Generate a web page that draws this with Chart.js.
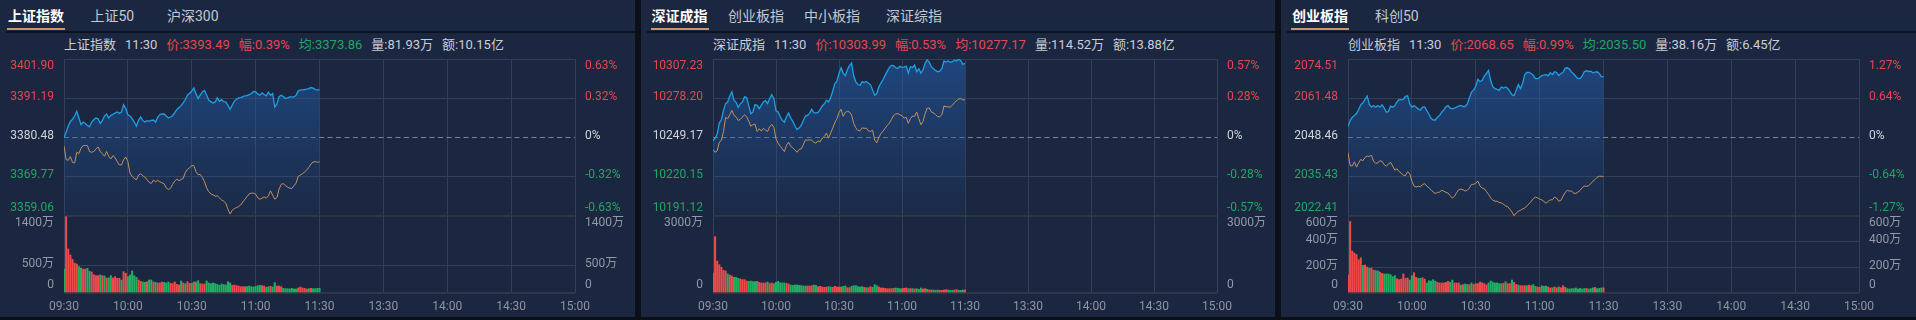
<!DOCTYPE html>
<html><head><meta charset="utf-8">
<script src="https://cdn.jsdelivr.net/npm/chart.js@4.4.0/dist/chart.umd.min.js"></script>
<style>
body{margin:0;background:#0a0f18;width:1916px;height:320px;overflow:hidden;font-family:Roboto,"Noto Sans CJK SC",sans-serif}
.panel{position:absolute;top:0;height:317px;background:#1b2740}
.tab{position:absolute;top:6px;font-size:14px;line-height:20px;color:#c3c8d1;white-space:nowrap}
.tab.on{color:#fff;font-weight:bold}
.uline{position:absolute;top:28px;height:2px;background:#c99562}
.sep{position:absolute;left:6px;right:0;top:31px;height:2px;background:#0d131e}
.info{position:absolute;top:37px;font-size:13px;line-height:16px;color:#c9cdd5;white-space:nowrap}
.info span{margin-right:9px}
canvas{position:absolute;left:0}
</style>
</head>
<body>
<script>
// time axis: one point per minute, 09:30-11:30 then 13:01-15:00 (241 slots)
const xTickLabels = ['09:30','10:00','10:30','11:00','11:30','13:30','14:00','14:30','15:00'];

// ---- 上证指数 ----
const shPriceTicks = [3359.06, 3369.77, 3380.48, 3391.19, 3401.90];
const shPctLabels = ['-0.63%', '-0.32%', '0%', '0.32%', '0.63%'];
const shVolTicks = [0, 500, 1400];
const shVolLabels = ['0', '500万', '1400万'];
const shPrice = [
  3380.48,3381.94,3383.59,3384.87,3385.42,3386.34,3387.62,3385.79,3383.96,3384.69,
  3384.32,3383.77,3383.41,3384.69,3385.33,3385.79,3385.61,3384.32,3385.06,3386.34,
  3386.89,3385.79,3386.52,3386.80,3387.16,3387.44,3387.07,3387.44,3389.45,3388.35,
  3386.70,3386.34,3385.61,3384.69,3383.59,3385.15,3386.06,3385.15,3384.69,3385.06,
  3384.87,3385.15,3385.24,3384.69,3385.97,3386.70,3386.89,3386.89,3386.34,3385.79,
  3386.06,3386.43,3387.25,3388.17,3388.63,3389.17,3389.91,3390.91,3392.01,3392.56,
  3393.11,3394.02,3392.38,3391.10,3392.10,3392.92,3393.29,3392.01,3390.64,3390.27,
  3389.91,3390.18,3391.28,3390.36,3390.82,3390.27,3390.18,3389.26,3388.17,3389.26,
  3390.36,3390.91,3391.28,3391.37,3391.64,3391.83,3391.92,3392.19,3392.47,3393.02,
  3392.92,3392.38,3392.01,3392.65,3392.19,3391.83,3392.83,3392.01,3392.47,3388.81,
  3389.63,3391.64,3392.01,3391.64,3391.10,3391.28,3391.55,3391.55,3391.55,3392.01,
  3393.20,3393.38,3393.47,3393.57,3393.66,3393.84,3394.11,3393.93,3393.57,3393.47,
  3393.49];
const shAvg = [
  3378.10,3374.44,3374.26,3375.26,3373.71,3373.53,3376.45,3376.09,3377.55,3378.28,
  3378.28,3378.28,3376.64,3376.45,3376.64,3377.37,3377.92,3376.64,3376.09,3375.36,
  3376.64,3375.36,3374.62,3375.54,3374.99,3373.89,3372.98,3372.98,3374.44,3375.17,
  3373.89,3370.78,3369.87,3369.32,3368.95,3370.23,3370.60,3370.05,3369.68,3368.95,
  3368.22,3367.94,3368.86,3368.40,3368.77,3368.40,3368.13,3367.85,3366.75,3366.30,
  3366.57,3367.67,3368.58,3369.13,3368.68,3369.04,3369.32,3370.96,3371.79,3372.25,
  3372.79,3372.79,3371.15,3370.32,3370.41,3369.59,3368.40,3366.75,3365.66,3365.11,
  3364.83,3364.47,3364.56,3364.01,3363.46,3363.09,3362.55,3360.90,3359.62,3360.62,
  3361.08,3361.36,3361.63,3362.09,3362.91,3363.64,3364.38,3365.11,3365.29,3365.29,
  3365.02,3364.01,3363.64,3363.92,3364.28,3363.92,3364.56,3365.93,3364.74,3363.64,
  3364.10,3366.39,3367.67,3367.94,3367.30,3366.94,3366.66,3366.57,3367.30,3368.04,
  3369.87,3370.23,3370.60,3371.05,3371.60,3372.34,3373.25,3373.80,3373.89,3373.71,
  3373.86];
const shVol = [
  436,1388,800,691,612,545,527,479,455,436,
  436,448,394,382,333,315,315,327,315,309,
  273,273,315,273,297,267,267,236,388,358,
  297,327,400,315,285,236,212,200,194,206,
  236,236,200,194,182,182,200,194,182,200,
  176,170,200,158,145,218,182,170,206,176,
  176,200,200,224,170,164,164,218,182,170,
  182,170,158,139,164,152,145,206,182,139,
  145,133,127,115,115,115,115,127,115,109,
  121,133,139,133,127,103,115,121,109,188,
  127,127,115,85,79,79,73,85,73,73,
  91,109,91,85,73,79,85,79,79,85,
  85];
const shDir = ('grrrrrrggr'+'rggrrrrgrg'+'rggrrrrgrr'+'gggggrrggr'+'ggrgrrrggg'+'rrrrrgrgrr'+
  'grggrrrggg'+'gggggggggr'+'rrrrrrgggg'+'gggrrggrgg'+'rrrggggggg'+'rrrrrgrggg'+'g').split('');

// ---- 深证成指 ----
const szPriceTicks = [10191.12, 10220.15, 10249.17, 10278.20, 10307.23];
const szPctLabels = ['-0.57%', '-0.28%', '0%', '0.28%', '0.57%'];
const szVolTicks = [0, 3000];
const szVolLabels = ['0', '3000万'];
const szPrice = [
  10246.69,10248.67,10251.65,10259.84,10262.32,10269.27,10274.23,10275.47,10279.93,10282.91,
  10276.71,10275.22,10271.50,10273.98,10275.47,10279.19,10278.69,10272.99,10266.79,10268.03,
  10273.48,10272.99,10270.51,10272.99,10275.47,10276.46,10274.23,10277.95,10280.93,10277.95,
  10269.02,10268.03,10264.55,10261.82,10260.58,10264.55,10267.28,10263.56,10261.08,10257.85,
  10255.12,10256.12,10258.10,10261.58,10265.05,10265.54,10267.03,10270.01,10267.53,10267.28,
  10267.78,10269.76,10272.49,10273.98,10276.71,10275.47,10278.45,10283.41,10288.87,10290.85,
  10296.56,10300.78,10296.81,10294.82,10299.29,10302.26,10304.25,10294.82,10290.35,10288.37,
  10287.63,10290.35,10289.86,10290.60,10289.36,10288.12,10284.40,10280.43,10281.67,10286.63,
  10289.36,10292.09,10295.32,10298.30,10301.02,10302.51,10302.26,10300.78,10300.28,10301.77,
  10301.02,10301.27,10302.01,10296.81,10301.52,10301.02,10302.76,10297.80,10300.03,10296.81,
  10299.29,10304.00,10306.48,10304.75,10301.52,10300.03,10298.79,10297.80,10298.30,10300.28,
  10305.74,10304.99,10305.74,10304.75,10305.24,10306.48,10305.74,10307.23,10305.99,10303.26,
  10303.99];
const szAvg = [
  10240.24,10238.25,10239.25,10245.70,10246.94,10253.64,10264.06,10263.06,10266.04,10269.27,
  10265.54,10264.30,10261.82,10262.57,10264.30,10266.04,10264.55,10261.33,10257.61,10258.60,
  10259.09,10253.64,10255.62,10253.88,10255.87,10254.63,10253.64,10257.11,10258.85,10256.61,
  10248.18,10244.95,10242.72,10240.73,10238.75,10243.46,10245.70,10242.72,10241.48,10239.99,
  10238.25,10240.24,10240.73,10243.71,10247.43,10247.18,10247.43,10247.18,10245.70,10244.95,
  10246.69,10245.94,10248.67,10249.91,10252.40,10248.67,10252.40,10256.12,10260.09,10263.06,
  10267.53,10270.01,10264.80,10267.78,10268.52,10268.03,10265.79,10259.59,10256.36,10254.38,
  10254.13,10256.36,10255.87,10256.12,10254.13,10253.64,10254.63,10247.18,10245.20,10249.42,
  10252.15,10253.88,10256.12,10258.10,10259.84,10262.57,10265.54,10266.54,10266.79,10266.04,
  10265.30,10263.56,10264.06,10259.59,10263.06,10265.05,10264.80,10268.03,10263.06,10258.60,
  10261.08,10266.79,10271.00,10271.00,10268.03,10267.28,10266.04,10264.55,10264.55,10266.04,
  10272.49,10271.99,10271.75,10271.75,10272.99,10274.97,10276.46,10277.70,10277.95,10276.96,
  10277.17];
const szVol = [
  779,2195,1247,1104,1000,883,857,740,701,662,
  611,611,572,546,520,520,468,455,468,442,
  442,455,416,390,390,390,429,364,390,364,
  416,455,403,390,390,377,351,312,299,312,
  312,299,286,273,273,273,273,286,312,299,
  247,260,234,221,234,247,234,221,260,234,
  234,234,260,273,208,208,260,286,286,247,
  234,247,221,208,208,247,221,325,286,234,
  195,195,182,169,169,169,182,195,182,169,
  169,182,195,169,169,169,156,169,143,195,
  156,169,143,117,117,117,104,117,104,104,
  117,130,117,104,104,117,130,104,104,117,
  117];
const szDir = ('grrrrrrgrr'+'gggrrrrggg'+'ggrrrrgrrg'+'gggggrrggg'+'gggggrrrgg'+'rrrrrggrrr'+
  'rrggrrgggg'+'ggrgrrgggr'+'rrrrrrrggg'+'rrrgrgrggg'+'rrgrrgggrr'+'rrgggrrggg'+'r').split('');

// ---- 创业板指 ----
const cyPriceTicks = [2022.41, 2035.43, 2048.46, 2061.48, 2074.51];
const cyPctLabels = ['-1.27%', '-0.64%', '0%', '0.64%', '1.27%'];
const cyVolTicks = [0, 200, 400, 600];
const cyVolLabels = ['0', '200万', '400万', '600万'];
const cyPrice = [
  2052.15,2054.05,2055.17,2055.73,2056.40,2057.74,2059.30,2059.98,2061.09,2062.21,
  2059.42,2058.52,2059.08,2058.52,2059.08,2058.52,2059.30,2058.19,2056.85,2057.07,
  2058.86,2058.52,2059.08,2060.31,2061.09,2060.98,2061.09,2062.10,2062.32,2059.64,
  2058.52,2059.08,2058.52,2057.96,2057.52,2058.52,2058.63,2057.40,2056.17,2054.83,
  2054.27,2054.27,2055.17,2055.73,2056.85,2057.63,2058.63,2059.08,2058.19,2057.96,
  2058.19,2058.52,2058.86,2059.08,2058.75,2058.75,2059.53,2061.54,2063.55,2064.22,
  2065.45,2067.80,2067.02,2067.35,2068.81,2069.70,2070.71,2067.35,2065.34,2064.67,
  2064.45,2064.11,2065.23,2064.89,2065.23,2064.78,2063.78,2062.66,2062.32,2064.11,
  2066.01,2064.67,2066.35,2069.37,2070.04,2070.04,2069.70,2069.14,2068.03,2068.03,
  2068.36,2069.03,2069.14,2069.37,2068.92,2069.93,2069.37,2070.26,2070.04,2069.03,
  2069.70,2070.04,2071.49,2071.60,2071.16,2070.15,2069.59,2068.70,2068.03,2068.03,
  2068.92,2070.26,2070.60,2070.37,2070.48,2069.93,2070.15,2070.26,2069.70,2068.70,
  2068.65];
const cyAvg = [
  2043.43,2039.18,2038.96,2040.41,2038.62,2040.07,2041.19,2040.75,2041.86,2042.31,
  2042.20,2042.53,2040.63,2039.85,2040.07,2040.75,2040.52,2039.40,2038.96,2039.63,
  2040.19,2038.96,2037.62,2038.06,2037.17,2036.61,2035.94,2035.83,2037.06,2036.50,
  2033.93,2032.36,2032.03,2032.25,2032.14,2032.81,2033.14,2032.36,2031.80,2031.13,
  2030.35,2029.90,2030.24,2030.35,2030.91,2030.68,2030.24,2030.01,2029.12,2028.34,
  2028.90,2030.13,2031.13,2031.35,2031.13,2030.68,2030.91,2031.69,2032.92,2032.92,
  2033.26,2034.04,2032.36,2031.69,2031.47,2030.57,2029.57,2028.45,2027.66,2027.33,
  2027.33,2026.88,2026.77,2026.32,2025.76,2025.54,2024.65,2023.75,2022.52,2023.42,
  2023.97,2024.31,2024.76,2025.09,2025.76,2026.43,2027.22,2028.11,2028.67,2028.45,
  2028.00,2027.78,2027.22,2026.66,2027.22,2027.78,2027.78,2028.67,2028.34,2027.33,
  2027.55,2029.01,2030.24,2030.91,2030.68,2030.68,2030.01,2029.90,2030.35,2030.91,
  2031.80,2032.36,2032.25,2032.47,2033.14,2033.93,2034.49,2035.27,2035.60,2035.60,
  2035.50];
const cyVol = [
  140,557,326,311,300,259,275,215,218,202,
  192,194,179,174,171,163,153,148,148,148,
  142,127,135,111,104,109,148,114,117,101,
  135,158,122,114,114,119,109,78,96,93,
  104,93,83,78,78,78,83,91,83,101,
  78,78,78,62,65,70,67,65,78,67,
  73,73,85,80,73,62,78,93,85,78,
  78,73,73,75,88,73,73,101,83,67,
  62,57,57,57,57,62,57,65,52,47,
  44,57,52,54,47,39,41,47,41,47,
  41,57,44,34,31,34,34,39,31,36,
  31,34,36,31,34,39,44,34,36,39,
  41];
const cyDir = ('rrrrrrrgrr'+'grrggrrggg'+'gggrrrrrrg'+'grrggrrggg'+'ggrrrrrrgg'+'rrrgrggrgr'+
  'rrrrrrgggg'+'gggrgrrgrr'+'grrrgrrggr'+'rgggrrgrrg'+'rrrggggggg'+'ggrgggrggg'+'r').split('');

const RED = '#e5474c', GREEN = '#21a565', GRID = '#343f56';
const PRICE_COLOR = '#1f9fe2', AVG_COLOR = '#c4915b';
Chart.defaults.font.family = 'Roboto, "Noto Sans CJK SC", sans-serif';

const panels = [
  {left: 0, width: 635, chartL: 64, chartR: 575,
   tabs: ['上证指数', '上证50', '沪深300'], tabX: [8, 90.5, 167],
   info: ['上证指数', '11:30', '3393.49', '0.39%', '3373.86', '81.93万', '10.15亿'],
   price: shPrice, avg: shAvg, vol: shVol, dir: shDir,
   ticks: shPriceTicks, pct: shPctLabels, volTicks: shVolTicks, volLabels: shVolLabels},
  {left: 641, width: 634, chartL: 72, chartR: 576,
   tabs: ['深证成指', '创业板指', '中小板指', '深证综指'], tabX: [10.5, 87, 163, 245],
   info: ['深证成指', '11:30', '10303.99', '0.53%', '10277.17', '114.52万', '13.88亿'],
   price: szPrice, avg: szAvg, vol: szVol, dir: szDir,
   ticks: szPriceTicks, pct: szPctLabels, volTicks: szVolTicks, volLabels: szVolLabels},
  {left: 1281, width: 635, chartL: 67, chartR: 578,
   tabs: ['创业板指', '科创50'], tabX: [11, 94],
   info: ['创业板指', '11:30', '2068.65', '0.99%', '2035.50', '38.16万', '6.45亿'],
   price: cyPrice, avg: cyAvg, vol: cyVol, dir: cyDir,
   ticks: cyPriceTicks, pct: cyPctLabels, volTicks: cyVolTicks, volLabels: cyVolLabels}
];

const xTickValues = xTickLabels.map((t, i) => i * 30);
const toXY = arr => arr.map((y, x) => ({x, y}));

// axis labels sit just inside the top/bottom edges, centred on the inner lines
function sideLabels(axisId, ticks, left, right, leftColors, rightColors) {
  return {
    id: 'side',
    afterDraw(chart) {
      const s = chart.scales[axisId], a = chart.chartArea, c = chart.ctx;
      c.save();
      c.font = '12px Roboto, "Noto Sans CJK SC", sans-serif';
      c.textBaseline = 'middle';
      ticks.forEach((v, i) => {
        let y = s.getPixelForValue(v);
        if (i === ticks.length - 1) y += 6.5;
        else if (i === 0) y -= 8;
        else y -= 1.5;
        c.fillStyle = leftColors[i];
        c.textAlign = 'right';
        c.fillText(left[i], a.left - 10, y);
        c.fillStyle = rightColors[i];
        c.textAlign = 'left';
        c.fillText(right[i], a.right + 10, y);
      });
      c.restore();
    }
  };
}

panels.forEach(p => {
  const div = document.createElement('div');
  div.className = 'panel';
  div.style.left = p.left + 'px';
  div.style.width = p.width + 'px';
  document.body.appendChild(div);

  p.tabs.forEach((t, i) => {
    const el = document.createElement('div');
    el.className = 'tab' + (i === 0 ? ' on' : '');
    el.style.left = p.tabX[i] + 'px';
    el.textContent = t;
    div.appendChild(el);
    if (i === 0) {
      const u = document.createElement('div');
      u.className = 'uline';
      u.style.left = (p.tabX[i] - 1) + 'px';
      u.style.width = (el.offsetWidth + 2) + 'px';
      div.appendChild(u);
    }
  });
  const sep = document.createElement('div');
  sep.className = 'sep';
  div.appendChild(sep);

  const prev = p.ticks[2];
  const avgColor = parseFloat(p.info[4]) >= prev ? RED : GREEN;
  const info = document.createElement('div');
  info.className = 'info';
  info.style.left = p.chartL + 'px';
  info.innerHTML =
    `<span>${p.info[0]}</span><span>${p.info[1]}</span>` +
    `<span style="color:${RED}">价:${p.info[2]}</span>` +
    `<span style="color:${RED}">幅:${p.info[3]}</span>` +
    `<span style="color:${avgColor}">均:${p.info[4]}</span>` +
    `<span>量:${p.info[5]}</span><span>额:${p.info[6]}</span>`;
  div.appendChild(info);

  // price chart: area 59..216
  const pc = document.createElement('canvas');
  pc.width = p.width; pc.height = 176;
  pc.style.top = '50px';
  div.appendChild(pc);
  const priceColors = [GREEN, GREEN, '#d0d4da', RED, RED];
  new Chart(pc, {
    type: 'line',
    data: {datasets: [
      {data: toXY(p.avg), borderColor: AVG_COLOR, borderWidth: 1, pointRadius: 0, fill: false, order: 0},
      {data: toXY(p.price), borderColor: PRICE_COLOR, borderWidth: 1.3, pointRadius: 0, fill: 'start', order: 1,
       backgroundColor: c => {
         const a = c.chart.chartArea;
         if (!a) return 'rgba(0,0,0,0)';
         const g = c.chart.ctx.createLinearGradient(0, a.top, 0, a.bottom);
         g.addColorStop(0, 'rgba(34,90,165,0.62)');
         g.addColorStop(1, 'rgba(34,90,165,0.06)');
         return g;
       }},
      {data: [{x: 0, y: prev}, {x: 240, y: prev}], borderColor: '#7c828e', borderWidth: 1,
       borderDash: [5, 3.5], pointRadius: 0, fill: false, order: 2}
    ]},
    options: {
      responsive: false, animation: false, events: [],
      layout: {padding: {left: p.chartL, right: p.width - p.chartR, top: 9, bottom: 10}},
      plugins: {legend: {display: false}, tooltip: {enabled: false}},
      scales: {
        x: {type: 'linear', min: 0, max: 240,
            afterBuildTicks: a => { a.ticks = xTickValues.map(v => ({value: v})); },
            ticks: {display: false}, grid: {color: GRID, drawTicks: false}, border: {display: false}},
        y: {min: p.ticks[0], max: p.ticks[4],
            afterBuildTicks: a => { a.ticks = p.ticks.map(v => ({value: v})); },
            ticks: {display: false},
            grid: {drawTicks: false,
                   color: c => c.index === 0 ? '#2e3646' : (c.index === 2 ? 'rgba(0,0,0,0)' : GRID),
                   lineWidth: c => c.index === 0 ? 2 : 1},
            border: {display: false}}
      }
    },
    plugins: [sideLabels('y', p.ticks, p.ticks.map(v => v.toFixed(2)), p.pct, priceColors, priceColors)]
  });

  // volume chart: area 216..293, time labels below
  const vc = document.createElement('canvas');
  vc.width = p.width; vc.height = 104;
  vc.style.top = '216px';
  div.appendChild(vc);
  const volMax = p.volTicks[p.volTicks.length - 1];
  const volColors = p.volTicks.map(() => '#9299a6');
  new Chart(vc, {
    type: 'bar',
    data: {datasets: [{
      data: toXY(p.vol),
      backgroundColor: p.dir.map(d => d === 'r' ? '#ee4a4a' : '#22ad63'),
      barThickness: 1.4
    }]},
    options: {
      responsive: false, animation: false, events: [],
      layout: {padding: {left: p.chartL, right: p.width - p.chartR, top: 0, bottom: 0}},
      plugins: {legend: {display: false}, tooltip: {enabled: false}},
      scales: {
        x: {type: 'linear', min: 0, max: 240, offset: false,
            afterBuildTicks: a => { a.ticks = xTickValues.map(v => ({value: v})); },
            afterFit: s => { s.height = 27; },
            ticks: {autoSkip: false, maxRotation: 0, padding: 7, color: '#8d95a2',
                    font: {size: 12}, callback: (v, i) => xTickLabels[i]},
            grid: {color: GRID, drawTicks: false, offset: false}, border: {display: false}},
        y: {min: 0, max: volMax,
            afterBuildTicks: a => { a.ticks = p.volTicks.map(v => ({value: v})); },
            ticks: {display: false},
            grid: {drawTicks: false,
                   color: c => c.index === 0 ? '#2e3646' : (c.index === p.volTicks.length - 1 ? 'rgba(0,0,0,0)' : GRID),
                   lineWidth: c => c.index === 0 ? 2 : 1},
            border: {display: false}}
      }
    },
    plugins: [sideLabels('y', p.volTicks, p.volLabels, p.volLabels, volColors, volColors)]
  });
});
</script>
</body></html>
